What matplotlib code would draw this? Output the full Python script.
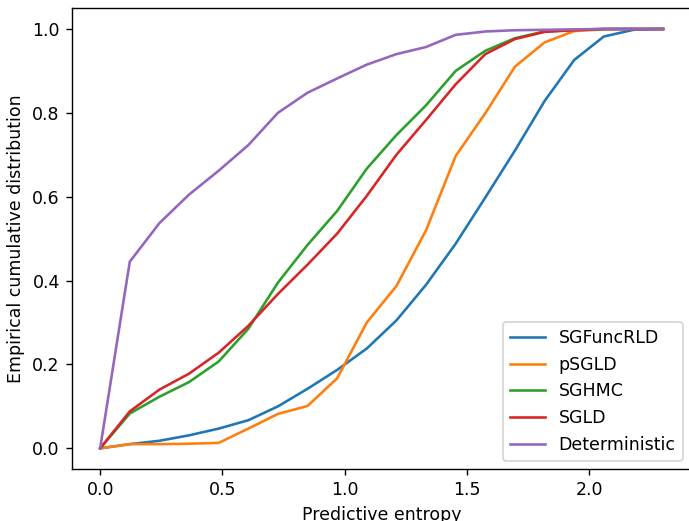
import numpy as np
import matplotlib
matplotlib.use("Agg")
import matplotlib.pyplot as plt

# Entropy grid: 20 evenly spaced points from 0 to ln(10)
entropy = np.linspace(0.0, np.log(10.0), 20)

sgfuncrld = [0.000, 0.010, 0.018, 0.031, 0.047, 0.067, 0.100, 0.142, 0.187, 0.238,
             0.305, 0.390, 0.488, 0.598, 0.710, 0.828, 0.926, 0.982, 0.998, 1.000]
psgld = [0.000, 0.010, 0.010, 0.011, 0.013, 0.047, 0.082, 0.101, 0.167, 0.300,
         0.387, 0.520, 0.697, 0.799, 0.910, 0.968, 0.995, 0.999, 1.000, 1.000]
sghmc = [0.000, 0.083, 0.123, 0.158, 0.207, 0.285, 0.395, 0.485, 0.566, 0.667,
         0.747, 0.818, 0.900, 0.948, 0.978, 0.994, 0.998, 1.000, 1.000, 1.000]
sgld = [0.000, 0.088, 0.140, 0.178, 0.228, 0.292, 0.368, 0.438, 0.512, 0.602,
        0.700, 0.783, 0.868, 0.940, 0.976, 0.993, 0.997, 1.000, 1.000, 1.000]
deterministic = [0.000, 0.445, 0.537, 0.605, 0.662, 0.723, 0.800, 0.848, 0.882, 0.915,
                 0.940, 0.957, 0.986, 0.994, 0.997, 0.998, 0.999, 1.000, 1.000, 1.000]

labels = ["SGFuncRLD", "pSGLD", "SGHMC", "SGLD", "Deterministic"]
series = [sgfuncrld, psgld, sghmc, sgld, deterministic]

W, H, DPI = 689, 521, 125
fig = plt.figure(figsize=(W / DPI, H / DPI), dpi=DPI)
ax = fig.add_axes([72 / W, 1 - 469.3 / H, 619.2 / W, 461.3 / H])

for vals, lab in zip(series, labels):
    ax.plot(entropy, vals, label=lab)

ax.set_xlabel("Predictive entropy")
ax.set_ylabel("Empirical cumulative distribution")
ax.set_xticks([0.0, 0.5, 1.0, 1.5, 2.0])
ax.legend(loc="lower right")

fig.savefig("out.png", dpi=DPI)
